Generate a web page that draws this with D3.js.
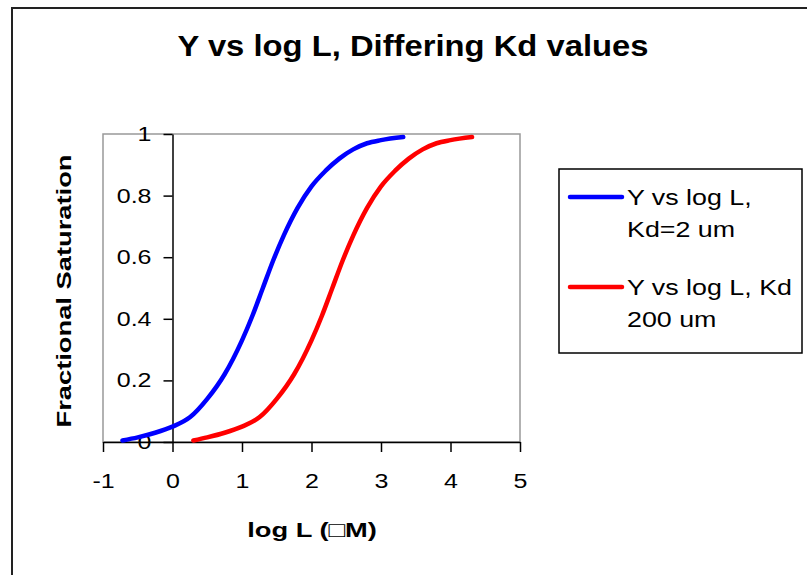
<!DOCTYPE html>
<html>
<head>
<meta charset="utf-8">
<script src="https://cdn.jsdelivr.net/npm/d3@7"></script>
<style>
  body { margin: 0; background: #fff; }
  text { font-family: "Liberation Sans", Arial, sans-serif; fill: #000; }
  .stretch, .ylab text { transform-box: fill-box; transform-origin: center; }
  .ylab text { transform-origin: right center; }
</style>
</head>
<body>
<div class="chart"></div>
<script>
// log L values and fractional saturation
var logLBlue = [-0.72, -0.5, -0.25, 0, 0.25, 0.5, 0.75, 1.0, 1.15, 1.3, 1.45, 1.6, 1.8, 2.0, 2.2, 2.4, 2.6, 2.8, 3.0, 3.32];
var satBlue  = [0.005, 0.015, 0.03, 0.05, 0.08, 0.14, 0.22, 0.33, 0.41, 0.50, 0.59, 0.67, 0.76, 0.83, 0.88, 0.92, 0.95, 0.97, 0.98, 0.99];
var logLRed  = [0.3, 0.5, 0.75, 1.0, 1.25, 1.5, 1.75, 2.0, 2.15, 2.3, 2.45, 2.6, 2.8, 3.0, 3.2, 3.4, 3.6, 3.8, 4.0, 4.31];
var satRed   = [0.005, 0.015, 0.03, 0.05, 0.08, 0.14, 0.22, 0.33, 0.41, 0.50, 0.59, 0.67, 0.76, 0.83, 0.88, 0.92, 0.95, 0.97, 0.98, 0.99];

var seriesNames = ["Y vs log L, Kd=2 um", "Y vs log L, Kd 200 um"];
var legendLines = [["Y vs log L,", "Kd=2 um"], ["Y vs log L, Kd", "200 um"]];
var xTicks = [-1, 0, 1, 2, 3, 4, 5];
var yTicks = [0, 0.2, 0.4, 0.6, 0.8, 1];

var width = 807, height = 575;

var svg = d3.select(".chart").append("svg")
  .attr("width", width)
  .attr("height", height);

// chart border (runs off the page on the right and bottom)
svg.append("rect")
  .attr("x", 12).attr("y", 8)
  .attr("width", 820).attr("height", 600)
  .attr("fill", "#fff")
  .attr("stroke", "#222")
  .attr("stroke-width", 2);

var x = d3.scaleLinear().domain([-1, 5]).range([103, 520]);
var y = d3.scaleLinear().domain([0, 1]).range([442, 134]);

// plot area frame
svg.append("rect")
  .attr("x", x(-1)).attr("y", y(1))
  .attr("width", x(5) - x(-1)).attr("height", y(0) - y(1))
  .attr("fill", "none")
  .attr("stroke", "#999")
  .attr("stroke-width", 1.5);

// title
svg.append("text")
  .attr("class", "stretch")
  .attr("x", 413).attr("y", 56)
  .attr("text-anchor", "middle")
  .style("font-size", "29px")
  .style("font-weight", "bold")
  .style("transform", "scaleX(1.13)")
  .text("Y vs log L, Differing Kd values");

// x axis
var xAxis = svg.append("g")
  .attr("transform", "translate(0," + y(0) + ")")
  .call(d3.axisBottom(x).tickValues(xTicks).tickSize(10).tickSizeOuter(0).tickPadding(22)
    .tickFormat(function (d) { return String(d); }));

xAxis.selectAll("text")
  .attr("class", "stretch")
  .style("font-size", "20px")
  .style("transform", "scaleX(1.25)");

// y axis sits at log L = 0
var yAxis = svg.append("g")
  .attr("class", "ylab")
  .attr("transform", "translate(" + x(0) + ",0)")
  .call(d3.axisLeft(y).tickValues(yTicks).tickSize(9).tickSizeOuter(0).tickPadding(12)
    .tickFormat(function (d) { return String(d); }));

yAxis.selectAll("text")
  .style("font-size", "20px")
  .style("transform", "scaleX(1.25)");

svg.selectAll(".domain, .tick line")
  .attr("stroke", "#000")
  .attr("stroke-width", 1.5);

// axis titles
svg.append("text")
  .attr("class", "stretch")
  .attr("x", 312).attr("y", 537)
  .attr("text-anchor", "middle")
  .style("font-size", "21px")
  .style("font-weight", "bold")
  .style("transform", "scaleX(1.3)")
  .text("log L (\u25A1M)");

svg.append("g")
  .attr("transform", "translate(71,291) rotate(-90)")
  .append("text")
  .attr("x", 0).attr("y", 0)
  .attr("text-anchor", "middle")
  .style("font-size", "21px")
  .style("font-weight", "bold")
  .attr("textLength", 273)
  .attr("lengthAdjust", "spacingAndGlyphs")
  .text("Fractional Saturation");

// curves
var line = d3.line()
  .x(function (d) { return x(d[0]); })
  .y(function (d) { return y(d[1]); })
  .curve(d3.curveMonotoneX);

var series = [
  { name: seriesNames[0], color: "#0000ff", pts: d3.zip(logLBlue, satBlue) },
  { name: seriesNames[1], color: "#ff0000", pts: d3.zip(logLRed, satRed) }
];

svg.append("g").selectAll("path")
  .data(series)
  .enter()
  .append("path")
  .attr("d", function (d) { return line(d.pts); })
  .attr("fill", "none")
  .attr("stroke", function (d) { return d.color; })
  .attr("stroke-width", 4.5)
  .attr("stroke-linejoin", "round")
  .attr("stroke-linecap", "round");

// legend
svg.append("rect")
  .attr("x", 559).attr("y", 169)
  .attr("width", 243).attr("height", 184)
  .attr("fill", "#fff")
  .attr("stroke", "#000")
  .attr("stroke-width", 1.5);

var legend = svg.append("g").selectAll("g")
  .data(series)
  .enter()
  .append("g")
  .attr("transform", function (d, i) { return "translate(0," + (197 + i * 90) + ")"; });

legend.append("line")
  .attr("x1", 570).attr("x2", 622)
  .attr("y1", 0).attr("y2", 0)
  .attr("stroke", function (d) { return d.color; })
  .attr("stroke-width", 4.5)
  .attr("stroke-linecap", "round");

legend.each(function (d, i) {
  d3.select(this).selectAll("text")
    .data(legendLines[i])
    .enter()
    .append("text")
    .attr("x", 627)
    .attr("y", function (t, j) { return 8 + j * 32; })
    .style("font-size", "22px")
    .style("transform-box", "fill-box")
    .style("transform-origin", "left center")
    .style("transform", "scaleX(1.22)")
    .text(function (t) { return t; });
});
</script>
</body>
</html>
